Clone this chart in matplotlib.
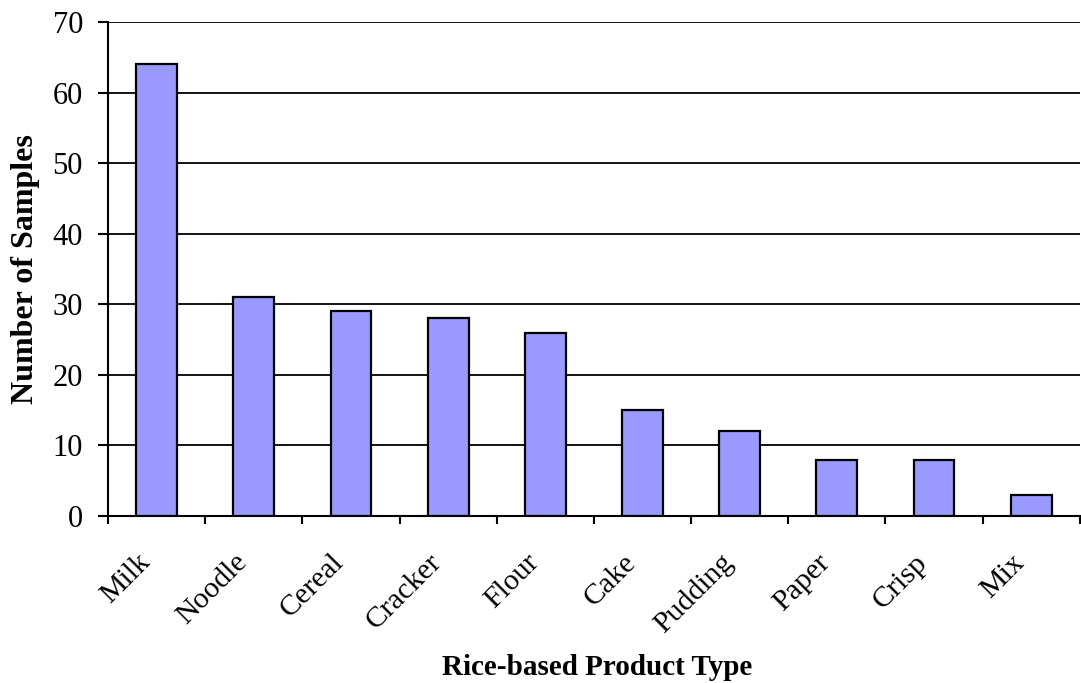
import matplotlib.pyplot as plt
import matplotlib.transforms as mtransforms
import numpy as np
from matplotlib.ticker import FixedLocator

products = ["Milk", "Noodle", "Cereal", "Cracker", "Flour",
            "Cake", "Pudding", "Paper", "Crisp", "Mix"]
samples = [64, 31, 29, 28, 26, 15, 12, 8, 8, 3]

plt.rcParams['font.family'] = ['Liberation Serif', 'DejaVu Serif']

fig = plt.figure(figsize=(10.81, 6.83), dpi=100)
ax = fig.add_axes([0.0999, 0.2445, 0.899, 0.7233])

x = np.arange(len(products))
ax.bar(x, samples, width=0.42, color='#9999ff', edgecolor='black', linewidth=1.6, zorder=3)

ax.set_xlim(-0.5, len(products) - 0.5)
ax.set_ylim(0, 70)
ax.set_yticks(range(0, 71, 10))
ax.yaxis.grid(True, color='black', linewidth=1.3, zorder=0)

# ticks between categories, labels at centers
ax.set_xticks(x)
ax.set_xticklabels(products, rotation=45, ha='right', rotation_mode='anchor', fontsize=21.5)
ax.xaxis.set_minor_locator(FixedLocator(np.arange(-0.5, len(products) - 0.4, 1)))
ax.tick_params(axis='x', which='major', length=0, pad=24)
ax.tick_params(axis='x', which='minor', length=6, width=1.5, direction='out')
ax.tick_params(axis='y', labelsize=22, length=7, width=1.5, direction='out', pad=11)

# nudge the rotated labels left, like the original
shift = mtransforms.ScaledTranslation(-20 / 100, 0, fig.dpi_scale_trans)
for lab in ax.get_xticklabels():
    lab.set_transform(lab.get_transform() + shift)

for s in ['top', 'right']:
    ax.spines[s].set_visible(False)
for s in ['left', 'bottom']:
    ax.spines[s].set_linewidth(1.5)

ax.set_ylabel("Number of Samples", fontsize=23, fontweight='bold', labelpad=9)
fig.text(597 / 1081, 1 - 675 / 683, "Rice-based Product Type", fontsize=21,
         fontweight='bold', ha='center', va='baseline')

fig.savefig("out.png", dpi=100)
